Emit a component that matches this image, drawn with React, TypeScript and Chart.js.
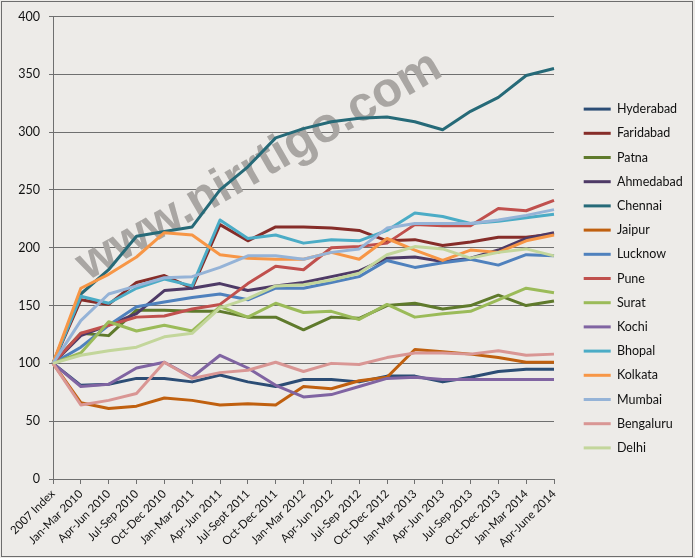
import React, { useEffect, useRef } from "react";
import { Chart, registerables } from "chart.js";

Chart.register(...registerables);

const quarters = [
  "2007 Index", "Jan-Mar 2010", "Apr-Jun 2010", "Jul-Sep 2010", "Oct-Dec 2010",
  "Jan-Mar 2011", "Apr-Jun 2011", "Jul-Sept 2011", "Oct-Dec 2011", "Jan-Mar 2012",
  "Apr-Jun 2012", "Jul-Sep 2012", "Oct-Dec 2012", "Jan-Mar 2013", "Apr-Jun 2013",
  "Jul-Sep 2013", "Oct-Dec 2013", "Jan-Mar 2014", "Apr-June 2014",
];

const hyderabad = [100, 81, 82, 87, 87, 84, 90, 84, 80, 86, 86, 84, 89, 89, 84, 88, 93, 95, 95];
const faridabad = [100, 155, 151, 170, 176, 165, 220, 206, 218, 218, 217, 215, 206, 207, 202, 205, 209, 209, 212];
const patna = [100, 126, 124, 146, 146, 145, 145, 140, 140, 129, 140, 139, 150, 152, 147, 150, 159, 150, 154];
const ahmedabad = [100, 124, 133, 143, 163, 165, 169, 163, 167, 170, 175, 180, 191, 192, 188, 191, 198, 208, 213];
const chennai = [100, 160, 181, 210, 214, 218, 250, 270, 295, 303, 309, 312, 313, 309, 302, 318, 330, 349, 355];
const jaipur = [100, 66, 61, 63, 70, 68, 64, 65, 64, 80, 78, 85, 88, 112, 110, 108, 105, 101, 101];
const lucknow = [100, 114, 133, 149, 153, 157, 160, 155, 165, 165, 170, 175, 189, 183, 187, 190, 185, 194, 193];
const pune = [100, 126, 133, 140, 141, 147, 151, 169, 184, 181, 200, 201, 204, 220, 219, 219, 234, 232, 241];
const surat = [100, 109, 136, 128, 133, 128, 149, 140, 152, 144, 145, 138, 151, 140, 143, 145, 155, 165, 161];
const kochi = [100, 80, 82, 96, 101, 88, 107, 96, 81, 71, 73, 80, 87, 88, 86, 86, 86, 86, 86];
const bhopal = [100, 158, 152, 165, 173, 167, 224, 208, 211, 204, 207, 206, 215, 230, 227, 221, 223, 226, 229];
const kolkata = [100, 165, 177, 192, 213, 211, 194, 191, 190, 190, 196, 190, 208, 198, 189, 198, 196, 206, 211];
const mumbai = [100, 137, 160, 167, 174, 175, 183, 193, 193, 190, 196, 199, 217, 221, 221, 221, 224, 228, 233];
const bengaluru = [100, 64, 68, 74, 101, 87, 92, 94, 101, 93, 100, 99, 105, 109, 109, 108, 111, 107, 108];
const delhi = [100, 107, 111, 114, 123, 126, 148, 156, 167, 168, 172, 178, 194, 201, 199, 191, 196, 199, 193];

const cities = [
  "Hyderabad", "Faridabad", "Patna", "Ahmedabad", "Chennai", "Jaipur", "Lucknow", "Pune",
  "Surat", "Kochi", "Bhopal", "Kolkata", "Mumbai", "Bengaluru", "Delhi",
];
const series = [
  hyderabad, faridabad, patna, ahmedabad, chennai, jaipur, lucknow, pune,
  surat, kochi, bhopal, kolkata, mumbai, bengaluru, delhi,
];
const colors = [
  "#2c4d75", "#862d29", "#5f7a2c", "#4e3a66", "#266a78", "#c0600f", "#4f81bd", "#c0504d",
  "#9bbb59", "#8064a2", "#4bacc6", "#f79646", "#95b3d7", "#d99694", "#c3d69b",
];

const yTicks = [0, 50, 100, 150, 200, 250, 300, 350, 400];

// chart area background + outer frame, like the Excel chart box
const framePlugin = {
  id: "frame",
  beforeDraw(chart: Chart) {
    const { ctx, width, height } = chart;
    ctx.save();
    ctx.fillStyle = "#edebe8";
    ctx.fillRect(0, 0, width, height);
    ctx.restore();
  },
  afterDraw(chart: Chart) {
    const { ctx, width, height } = chart;
    ctx.save();
    ctx.strokeStyle = "#6d6d6d";
    ctx.lineWidth = 1;
    ctx.strokeRect(1.5, 1.5, width - 4, height - 3);
    ctx.restore();
  },
};

// fixed legend box width so the plot ends where the Excel plot ends,
// and nudge the legend up a little
const legendBoxPlugin = {
  id: "legendBox",
  beforeLayout(chart: any) {
    const legend = chart.legend;
    if (!legend || legend._fixedFit) return;
    const fit = legend.fit;
    legend.fit = function () {
      fit.call(this);
      this.width = 123;
    };
    legend._fixedFit = true;
  },
  afterLayout(chart: any) {
    const legend = chart.legend;
    if (!legend) return;
    legend.top -= 8;
    legend.bottom -= 8;
  },
};

const watermarkPlugin = {
  id: "watermark",
  beforeDatasetsDraw(chart: Chart) {
    const { ctx } = chart;
    ctx.save();
    ctx.translate(266, 178);
    ctx.rotate((-30 * Math.PI) / 180);
    ctx.font = "bold 49px 'Liberation Sans', Arial, sans-serif";
    ctx.fillStyle = "#a9a6a3";
    ctx.textAlign = "center";
    ctx.textBaseline = "alphabetic";
    ctx.fillText("www.nirrtigo.com", 0, 0);
    ctx.restore();
  },
};

const App = () => {
  const canvasRef = useRef<HTMLCanvasElement | null>(null);
  const chartRef = useRef<Chart | null>(null);

  useEffect(() => {
    const ctx = canvasRef.current?.getContext("2d");
    if (!ctx) return;
    if (chartRef.current) chartRef.current.destroy();

    Chart.defaults.font.family = "Lato, 'Open Sans', sans-serif";
    Chart.defaults.color = "#111";

    chartRef.current = new Chart(ctx, {
      type: "line",
      data: {
        labels: quarters,
        datasets: cities.map((name, i) => ({
          label: name,
          data: series[i],
          borderColor: colors[i],
          backgroundColor: colors[i],
          borderWidth: 3,
          pointRadius: 0,
          borderJoinStyle: "round" as const,
          tension: 0,
          order: cities.length - i,
        })),
      },
      options: {
        responsive: false,
        animation: false,
        layout: { padding: { top: 15, right: 0, bottom: 0, left: 0 } },
        plugins: {
          tooltip: { enabled: false },
          legend: {
            position: "right",
            labels: {
              boxWidth: 27,
              boxHeight: 3,
              padding: 11.7,
              color: "#111",
              font: { size: 12.5 },
              sort: (a: any, b: any) => a.datasetIndex - b.datasetIndex,
              generateLabels: (chart: Chart) =>
                Chart.defaults.plugins.legend.labels
                  .generateLabels(chart)
                  .map((item: any) => ({ ...item, fillStyle: item.strokeStyle, lineWidth: 0 })),
            },
          },
        },
        scales: {
          x: {
            grid: { drawOnChartArea: false, drawTicks: true, tickLength: 5, color: "#6f6f6f" },
            border: { color: "#6f6f6f" },
            ticks: {
              autoSkip: false,
              minRotation: 45,
              maxRotation: 45,
              font: { size: 11.5 },
              color: "#111",
            },
            afterFit: (scale: any) => {
              scale.height = 79;
            },
          },
          y: {
            min: 0,
            max: 400,
            afterBuildTicks: (scale: any) => {
              scale.ticks = yTicks.map((v) => ({ value: v }));
            },
            grid: { color: "#6f6f6f", tickLength: 4 },
            border: { color: "#6f6f6f" },
            ticks: { padding: 9, font: { size: 12.5 }, color: "#111" },
            afterFit: (scale: any) => {
              scale.width = 53;
            },
          },
          spacer: {
            type: "linear",
            position: "right",
            display: true,
            grid: { display: false },
            border: { display: false },
            ticks: { display: false },
            afterFit: (scale: any) => {
              scale.width = 18;
            },
          },
        },
      },
      plugins: [framePlugin, legendBoxPlugin, watermarkPlugin],
    });

    return () => {
      if (chartRef.current) {
        chartRef.current.destroy();
        chartRef.current = null;
      }
    };
  }, []);

  return (
    <div style={{ position: "fixed", left: 0, top: 0, width: 695, height: 558 }}>
      <canvas ref={canvasRef} width={695} height={558}></canvas>
    </div>
  );
};

export default App;
